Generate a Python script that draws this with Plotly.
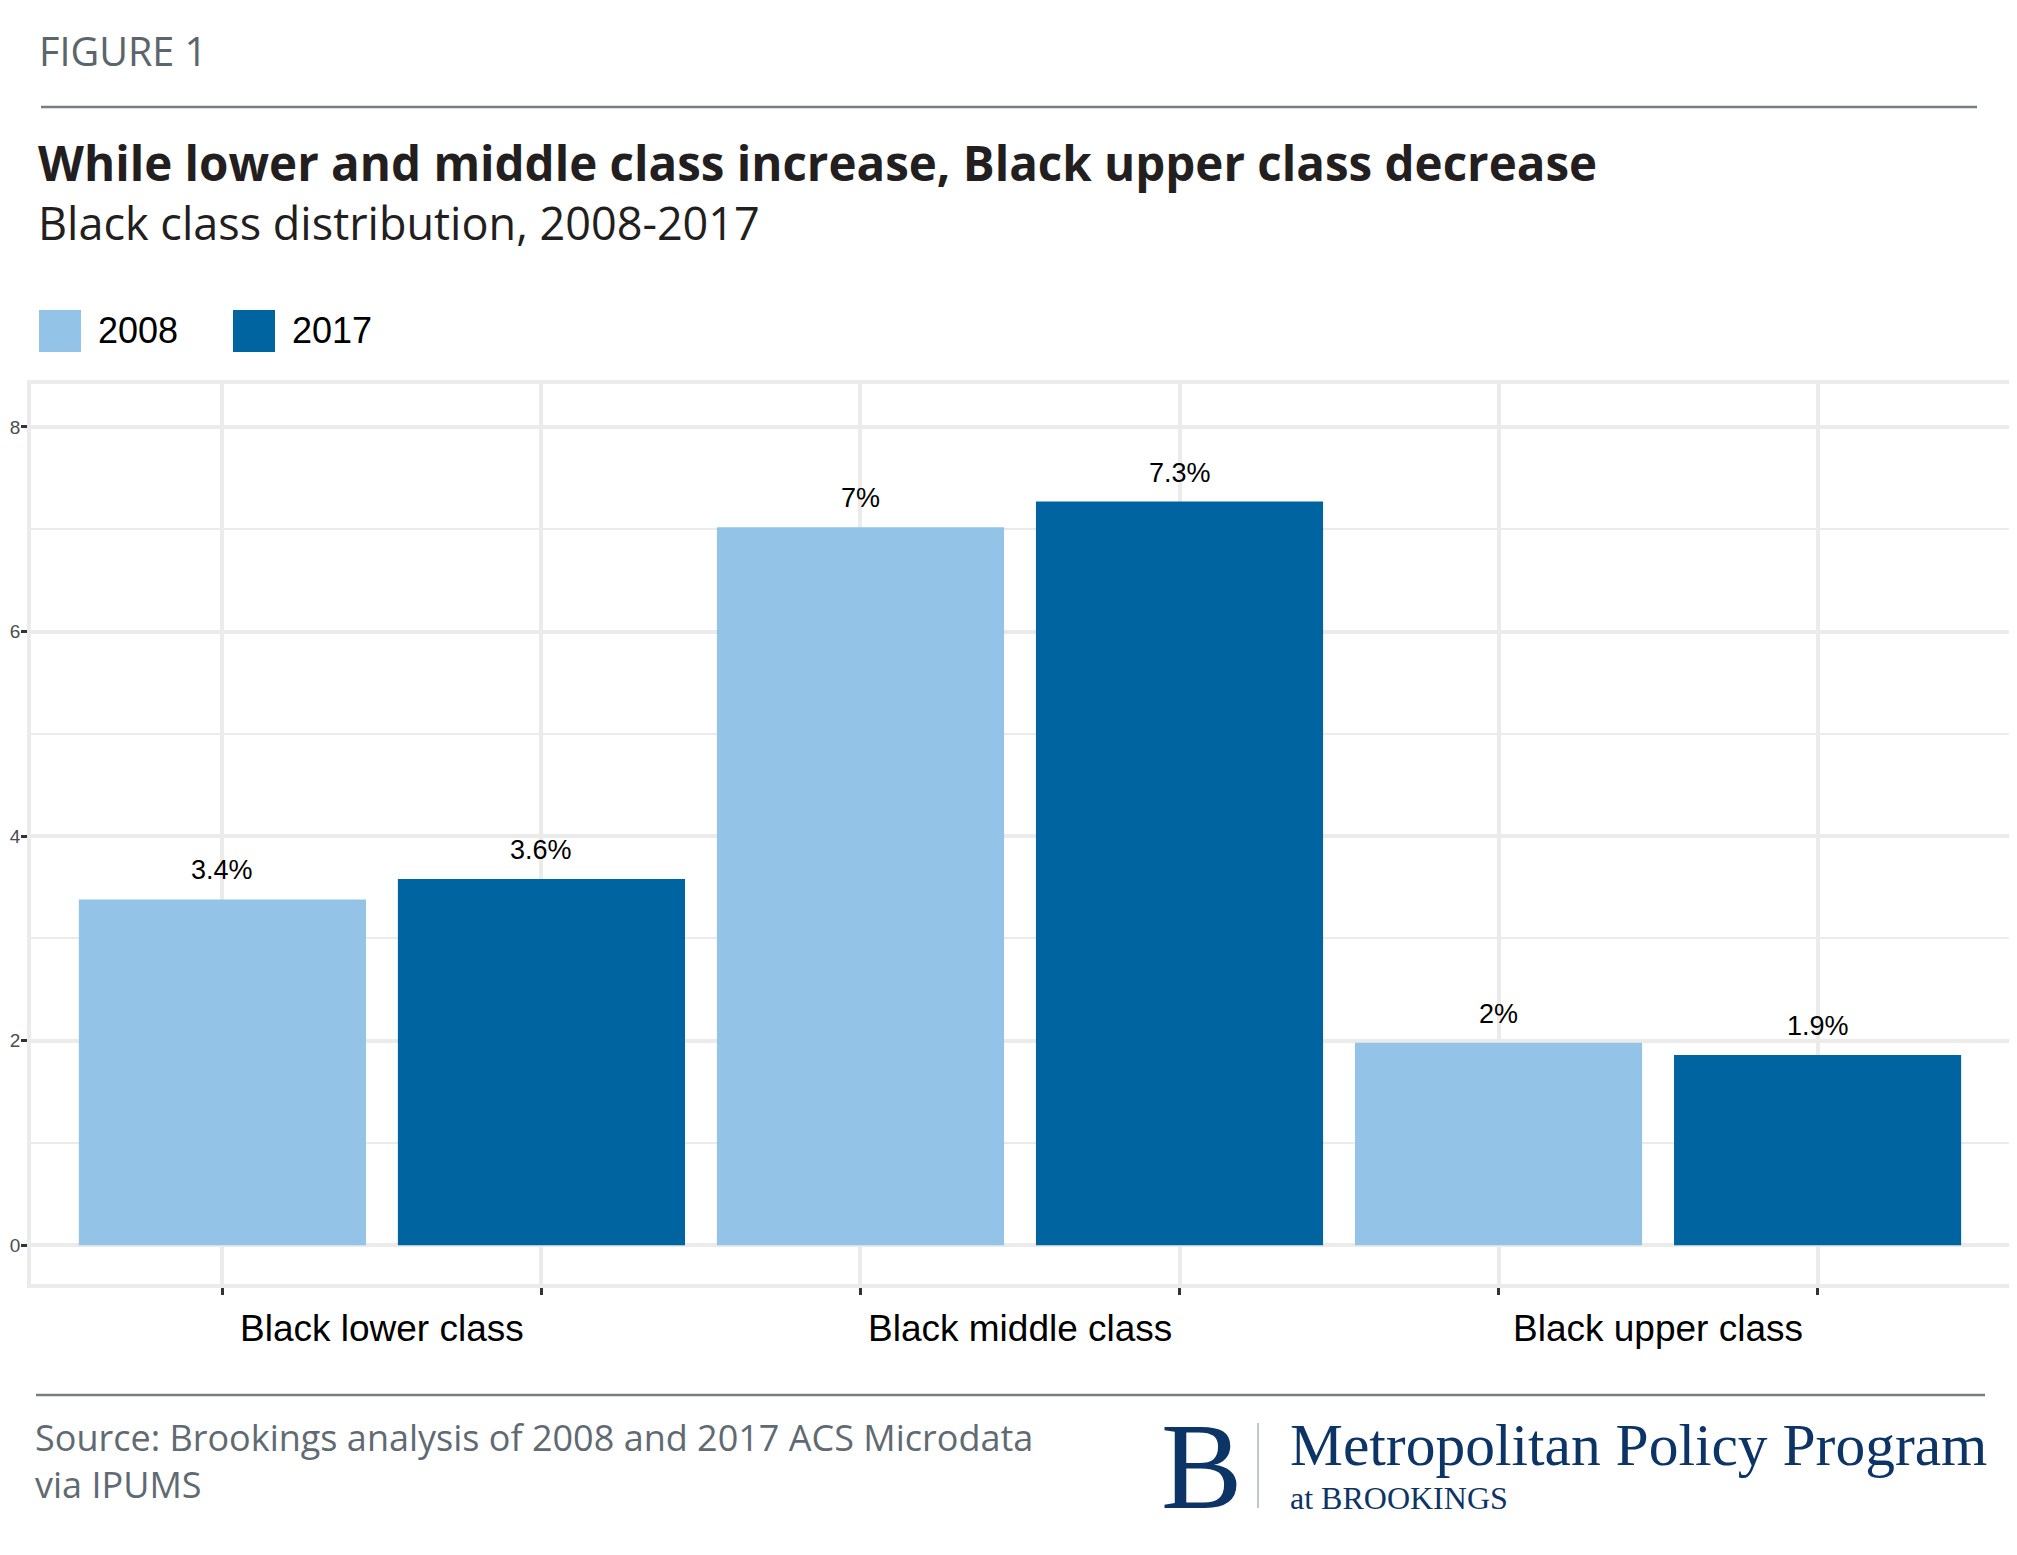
import plotly.graph_objects as go

# ---------------- data ----------------
categories = ["Black lower class", "Black middle class", "Black upper class"]
years = ["2008", "2017"]
values_2008 = [3.38, 7.02, 1.98]
values_2017 = [3.58, 7.27, 1.86]
labels_2008 = ["3.4%", "7%", "2%"]
labels_2017 = ["3.6%", "7.3%", "1.9%"]
y_ticks = [0, 2, 4, 6, 8]
y_tick_labels = ["0", "2", "4", "6", "8"]

series_values = [values_2008, values_2017]
series_labels = [labels_2008, labels_2017]
colors = ["#93C3E7", "#0064A0"]

# ---------------- geometry helpers (page pixel -> paper) ----------------
OFF = 8  # default body margin of the html page
W, H = 2017, 1555
L, T, PW, PH = 31 - OFF, 384 - OFF, 1978, 900
R = W - L - PW
B = H - T - PH


def px(x):
    return (x - OFF - L) / PW


def py(y):
    return (T + PH - (y - OFF)) / PH


fig = go.Figure()

n_series = len(years)
annotations = []
for j, (yr, vals, labs, col) in enumerate(zip(years, series_values, series_labels, colors)):
    xs = [n_series * i + j + 1 for i in range(len(categories))]
    fig.add_trace(go.Bar(
        x=xs, y=vals, name=yr, width=0.9,
        marker=dict(color=col, line=dict(width=0)),
        showlegend=False, hoverinfo="skip",
    ))
    for xv, yv, lab in zip(xs, vals, labs):
        annotations.append(dict(
            x=xv, y=yv, xref="x", yref="y", text=lab, showarrow=False,
            xanchor="center", yanchor="bottom", yshift=12,
            font=dict(family="Liberation Sans, Arial, sans-serif", size=27, color="#000000"),
        ))

# category labels centred under each pair
for i, cat in enumerate(categories):
    annotations.append(dict(
        x=n_series * i + (n_series + 1) / 2, y=0, xref="x", yref="paper",
        text=cat, showarrow=False, xanchor="center", yanchor="top", yshift=-22,
        font=dict(family="Liberation Sans, Arial, sans-serif", size=37, color="#000000"),
    ))

# header texts
annotations += [
    dict(x=px(37), y=py(51), xref="paper", yref="paper", text="FIGURE 1", showarrow=False,
         xanchor="left", yanchor="middle",
         font=dict(family="Open Sans, sans-serif", size=39.5, color="#5B656C")),
    dict(x=px(36), y=py(162), xref="paper", yref="paper",
         text="<b>While lower and middle class increase, Black upper class decrease</b>",
         showarrow=False, xanchor="left", yanchor="middle",
         font=dict(family="Open Sans, sans-serif", size=47.5, color="#231F20")),
    dict(x=px(36), y=py(222), xref="paper", yref="paper",
         text="Black class distribution, 2008-2017", showarrow=False,
         xanchor="left", yanchor="middle",
         font=dict(family="Open Sans, sans-serif", size=45, color="#231F20")),
    dict(x=px(33), y=py(1461), xref="paper", yref="paper",
         text="Source: Brookings analysis of 2008 and 2017 ACS Microdata<br>via IPUMS",
         showarrow=False, xanchor="left", yanchor="middle", align="left",
         font=dict(family="Open Sans, sans-serif", size=36, color="#5F6A72")),
    dict(x=px(1159), y=py(1466), xref="paper", yref="paper", text="B", showarrow=False,
         xanchor="left", yanchor="middle",
         font=dict(family="Liberation Serif, serif", size=122, color="#0D3466")),
    dict(x=px(1288), y=py(1445), xref="paper", yref="paper",
         text="Metropolitan Policy Program", showarrow=False,
         xanchor="left", yanchor="middle",
         font=dict(family="Liberation Serif, serif", size=59.5, color="#0D3466")),
    dict(x=px(1288), y=py(1498), xref="paper", yref="paper",
         text="at BROOKINGS", showarrow=False, xanchor="left", yanchor="middle",
         font=dict(family="Liberation Serif, serif", size=32, color="#0D3466")),
]

# manual legend
shapes = []
leg_x = [39, 233]
for yr, col, lx in zip(years, colors, leg_x):
    shapes.append(dict(type="rect", xref="paper", yref="paper",
                       x0=px(lx), x1=px(lx + 42), y0=py(352), y1=py(310),
                       fillcolor=col, line=dict(width=0)))
    annotations.append(dict(x=px(lx + 57), y=py(331), xref="paper", yref="paper",
                            text=yr, showarrow=False, xanchor="left", yanchor="middle",
                            font=dict(family="Liberation Sans, Arial, sans-serif", size=36,
                                      color="#000000")))

# rules and logo divider
shapes += [
    dict(type="line", xref="paper", yref="paper", x0=px(41), x1=px(1977), y0=py(107), y1=py(107),
         line=dict(color="#767E83", width=2.5)),
    dict(type="line", xref="paper", yref="paper", x0=px(36), x1=px(1985), y0=py(1395), y1=py(1395),
         line=dict(color="#767E83", width=2.5)),
    dict(type="line", xref="paper", yref="paper", x0=px(1258), x1=px(1258), y0=py(1423), y1=py(1508),
         line=dict(color="#A9B3C2", width=1.5)),
]

fig.update_layout(
    width=W, height=H,
    margin=dict(l=L, r=R, t=T, b=B, autoexpand=False),
    paper_bgcolor="#FFFFFF", plot_bgcolor="#FFFFFF",
    barmode="overlay",
    showlegend=False,
    annotations=annotations,
    shapes=shapes,
    xaxis=dict(
        range=[0.4, 6.6], tickmode="array",
        tickvals=[n_series * i + j + 1 for i in range(len(categories)) for j in range(n_series)],
        ticktext=[""] * (len(categories) * n_series),
        ticks="outside", ticklen=7, tickwidth=3, tickcolor="#333333",
        showgrid=True, gridcolor="#EBEBEB", gridwidth=4,
        showline=True, linecolor="#EBEBEB", linewidth=4, mirror=True,
        zeroline=False, fixedrange=True,
    ),
    yaxis=dict(
        range=[-0.38, 8.42], tickmode="array", tickvals=y_ticks, ticktext=y_tick_labels,
        ticks="outside", ticklen=6, tickwidth=3, tickcolor="#333333",
        ticklabelstandoff=-3,
        tickfont=dict(family="Liberation Sans, Arial, sans-serif", size=19, color="#4D4D4D"),
        showgrid=True, gridcolor="#EBEBEB", gridwidth=4,
        minor=dict(dtick=1, tick0=0, showgrid=True, gridcolor="#EBEBEB", gridwidth=2, ticks=""),
        showline=True, linecolor="#EBEBEB", linewidth=4, mirror=True,
        zeroline=False, fixedrange=True,
    ),
)

fig.write_html("out.html")
